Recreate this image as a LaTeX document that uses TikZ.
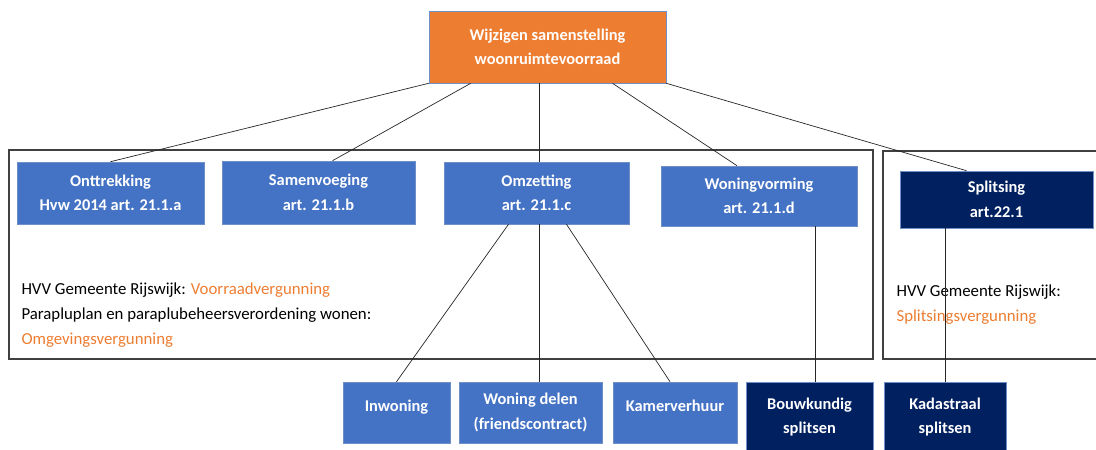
\documentclass[tikz,border=0pt]{standalone}
\usepackage{fontspec}
\setmainfont{Carlito}
\definecolor{oranje}{HTML}{ED7D31}
\definecolor{blauw}{HTML}{4472C4}
\definecolor{donkerblauw}{HTML}{002060}
\definecolor{rand}{HTML}{6F8FC8}
\definecolor{kader}{HTML}{404040}
\begin{document}
\begin{tikzpicture}[x=1pt, y=-1pt, font=\fontsize{16.8}{25}\selectfont,
	vak/.style={draw=rand, line width=0.6pt, text=white, font=\fontsize{16.4}{24.5}\selectfont\bfseries, align=center, inner sep=0pt},
	licht/.style={vak, fill=blauw},
	donker/.style={vak, fill=donkerblauw},
	lijn/.style={line width=0.7pt, color=black!85}]
				\useasboundingbox (0,0) rectangle (1096,450);
				\clip (0,0) rectangle (1096,450);
				\draw[line width=1.2pt, color=kader] (9,150) rectangle (873,359);
				\draw[line width=1.2pt, color=kader] (883,151) rectangle (1110,359);
				\node (hvvlinks) at (18,315)[anchor=west, align=left] {HVV Gemeente Rijswijk: \textcolor{oranje}{Voorraadvergunning}\\Parapluplan en paraplubeheersverordening wonen:\\\textcolor{oranje}{Omgevingsvergunning}};
				\node (hvvrechts) at (893,304.5)[anchor=west, align=left] {HVV Gemeente Rijswijk:\\\textcolor{oranje}{Splitsingsvergunning}};
				\node (top) at (547.5,47)[vak, fill=oranje, minimum width=237pt, minimum height=72pt] {Wijzigen samenstelling\\woonruimtevoorraad};
				\node (ontt) at (110.5,193)[licht, minimum width=187pt, minimum height=62pt] {Onttrekking\\Hvw 2014 art. 21.1.a};
				\node (samv) at (318.5,192.5)[licht, minimum width=193pt, minimum height=63pt] {Samenvoeging\\art. 21.1.b};
				\node (omz) at (536.5,193)[licht, minimum width=185pt, minimum height=62pt] {Omzetting\\art. 21.1.c};
				\node (wv) at (759,196)[licht, minimum width=196pt, minimum height=60pt] {Woningvorming\\art. 21.1.d};
				\node (spl) at (996.5,199.5)[donker, minimum width=193pt, minimum height=57pt] {Splitsing\\art.22.1};
				\node (inw) at (396.5,412.5)[licht, minimum width=107pt, minimum height=61pt, text depth=14pt] {Inwoning};
				\node (wd) at (530.5,412.5)[licht, minimum width=143pt, minimum height=61pt] {Woning delen\\(friendscontract)};
				\node (kam) at (675,412.5)[licht, minimum width=124pt, minimum height=61pt, text depth=14pt] {Kamerverhuur};
				\node (bouw) at (809.5,417)[donker, minimum width=127pt, minimum height=70pt] {Bouwkundig\\splitsen};
				\node (kad) at (945,417)[donker, minimum width=122pt, minimum height=70pt] {Kadastraal\\splitsen};
				\draw[lijn] (top.south west) -- (ontt.north);
				\draw[lijn] ([xshift=42pt]top.south west) -- ([xshift=14pt]samv.north);
				\draw[lijn] ([xshift=3pt]omz.north |- top.south) -- ([xshift=3pt]omz.north);
				\draw[lijn] ([xshift=65pt]top.south) -- ([xshift=-22pt]wv.north);
				\draw[lijn] (top.south east) -- ([xshift=-30pt]spl.north);
				\draw[lijn] ([xshift=-28pt]omz.south) -- (inw.north);
				\draw[lijn] ([xshift=3pt]omz.south) -- ([xshift=3pt]omz.south |- wd.north);
				\draw[lijn] ([xshift=30pt]omz.south) -- ([xshift=-5pt]kam.north);
				\draw[lijn] ([xshift=6pt]bouw.north |- wv.south) -- ([xshift=6pt]bouw.north);
				\draw[lijn] (kad.north |- spl.south) -- (kad.north);
\end{tikzpicture}
\end{document}
